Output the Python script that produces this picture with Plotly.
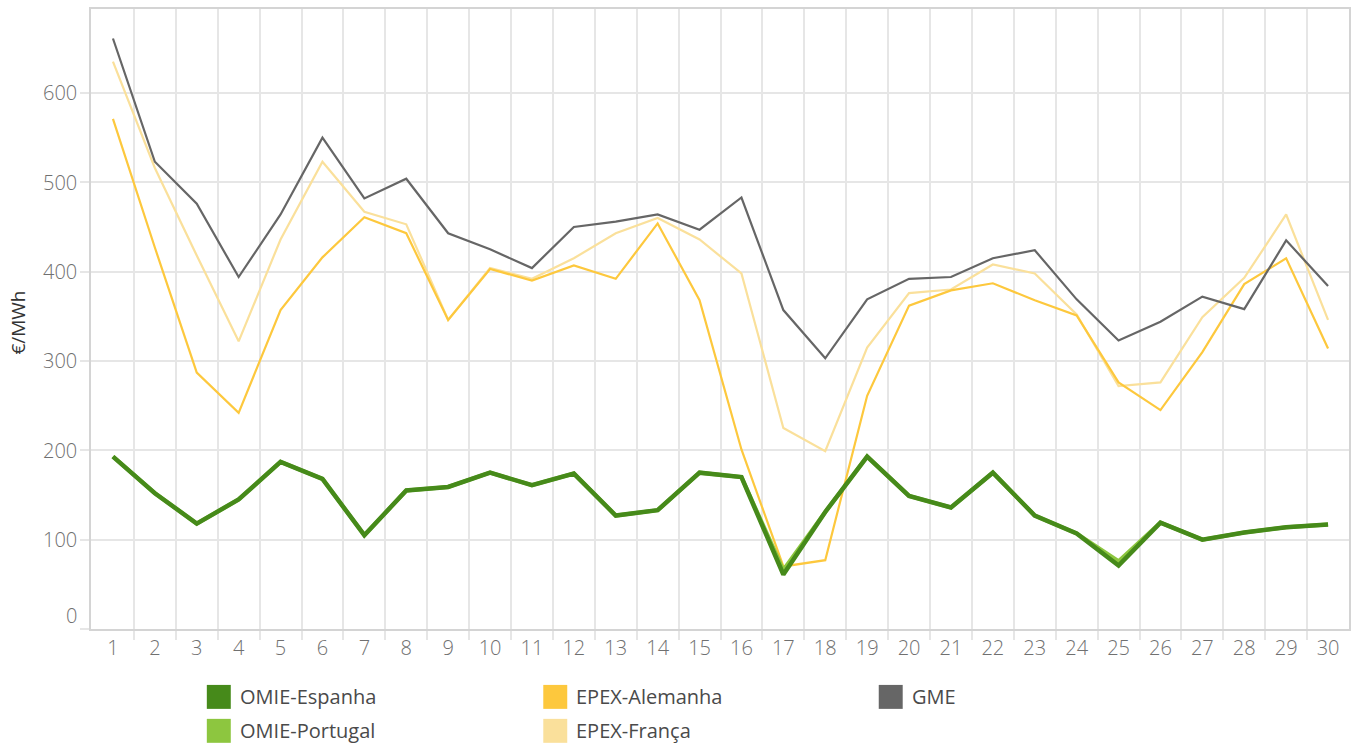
import plotly.graph_objects as go

# Daily day-ahead prices per market (€/MWh)
days = list(range(1, 31))
omie_espanha = [193, 152, 118, 145, 187, 168, 105, 155, 159, 175, 161, 174, 127, 133, 175,
                170, 61, 131, 193, 149, 136, 175, 127, 107, 71, 119, 100, 108, 114, 117]
omie_portugal = [193, 152, 118, 145, 187, 168, 105, 155, 159, 175, 161, 174, 127, 133, 175,
                 170, 66, 131, 193, 149, 136, 175, 127, 107, 76, 119, 100, 108, 114, 117]
epex_alemanha = [571, 427, 287, 242, 357, 416, 461, 443, 346, 403, 390, 407, 392, 454, 368,
                 201, 70, 77, 261, 362, 379, 387, 368, 351, 276, 245, 310, 386, 415, 314]
epex_franca = [635, 516, 418, 322, 436, 523, 467, 453, 346, 404, 392, 415, 443, 460, 436,
               398, 225, 199, 315, 376, 380, 408, 398, 352, 272, 276, 349, 393, 464, 346]
gme = [661, 523, 476, 394, 464, 550, 482, 504, 443, 425, 404, 450, 456, 464, 447,
       483, 357, 303, 369, 392, 394, 415, 424, 369, 323, 344, 372, 358, 435, 384]
y_ticks = [0, 100, 200, 300, 400, 500, 600]

C_ESP = "#468a1a"
C_POR = "#8dc63f"
C_ALE = "#fdc83d"
C_FRA = "#fae09b"
C_GME = "#666666"

FONT = "Open Sans"
TICK_COL = "#707070"

W, H = 1358, 745
L, R, T, B = 91, 7, 8, 116
PW, PH = W - L - R, H - T - B

fig = go.Figure()
series = [
    ("EPEX-França", epex_franca, C_FRA, 2.2),
    ("EPEX-Alemanha", epex_alemanha, C_ALE, 2.2),
    ("GME", gme, C_GME, 2.2),
    ("OMIE-Portugal", omie_portugal, C_POR, 4),
    ("OMIE-Espanha", omie_espanha, C_ESP, 4.5),
]
for name, vals, col, w in series:
    fig.add_trace(go.Scatter(x=days, y=vals, mode="lines", name=name,
                             line=dict(color=col, width=w), showlegend=False))

grid = "#e6e6e6"
fig.update_xaxes(
    range=[0.476, 30.5], tickvals=days, ticktext=[str(d) for d in days],
    showgrid=False, zeroline=False, ticks="",
    tickfont=dict(family=FONT, size=20, color=TICK_COL, weight=300),
    showline=True, linecolor="#d4d4d4", linewidth=1.5, mirror=True,
    minor=dict(tickvals=[d + 0.5 for d in days[:-1]], showgrid=True, gridcolor=grid,
               gridwidth=1.5, ticks="outside", ticklen=9, tickcolor=grid, tickwidth=1.5),
)
fig.update_yaxes(
    range=[0, 694], tickvals=y_ticks, showticklabels=False,
    showgrid=True, gridcolor=grid, gridwidth=1.5, zeroline=False,
    ticks="outside", ticklen=9, tickcolor=grid, tickwidth=1.5,
    showline=True, linecolor="#d4d4d4", linewidth=1.5, mirror=True,
)


def px_x(p):
    return (p - L) / PW


def px_y(p):
    return (H - B - p) / PH


ann = []
# y tick labels (the bottom one sits just above the axis)
for v in y_ticks:
    ann.append(dict(x=px_x(79), xref="paper", y=v, yref="y", text=str(v), showarrow=False,
                    xanchor="right", yanchor="middle", yshift=14 if v == 0 else 0,
                    font=dict(family=FONT, size=20, color=TICK_COL, weight=300)))
ann.append(dict(x=px_x(18), xref="paper", y=px_y(322), yref="paper", text="€/MWh",
                textangle=-90, showarrow=False, xanchor="center", yanchor="middle",
                font=dict(family=FONT, size=19, color="#333333")))

# legend: colour squares with labels, three columns
legend_items = [
    ("OMIE-Espanha", C_ESP, 207, 697), ("EPEX-Alemanha", C_ALE, 544, 697), ("GME", C_GME, 880, 697),
    ("OMIE-Portugal", C_POR, 207, 731), ("EPEX-França", C_FRA, 544, 731),
]
shapes = []
for name, col, x0, yc in legend_items:
    shapes.append(dict(type="rect", xref="paper", yref="paper",
                       x0=px_x(x0), x1=px_x(x0 + 24), y0=px_y(yc + 12), y1=px_y(yc - 12),
                       fillcolor=col, line=dict(width=0)))
    ann.append(dict(x=px_x(x0 + 31), xref="paper", y=px_y(yc), yref="paper", text=name,
                    showarrow=False, xanchor="left", yanchor="middle",
                    font=dict(family=FONT, size=20, color="#4a4a4a", weight=400)))

fig.update_layout(
    width=W, height=H, margin=dict(l=L, r=R, t=T, b=B),
    paper_bgcolor="white", plot_bgcolor="white",
    annotations=ann, shapes=shapes, showlegend=False,
)
fig.write_html("out.html")
